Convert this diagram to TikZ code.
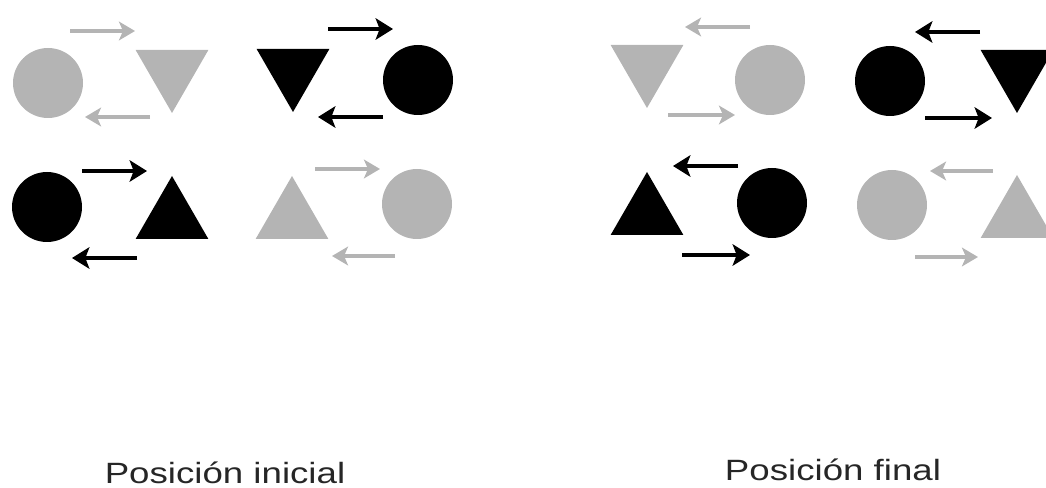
\documentclass[tikz,border=0pt]{standalone}
\usepackage{fontspec}
\setmainfont{Liberation Sans}
\usepackage{tikz}
\usetikzlibrary{
	arrows.meta,
	shapes.geometric
}
\usepackage{xcolor}
\definecolor{pale}{RGB}{180,180,180}

\begin{document}
\begin{tikzpicture}[x=0.75pt,y=-0.75pt,
		ball/.style={circle,inner sep=0pt,minimum size=52.5pt},
		tri/.style={regular polygon,regular polygon sides=3,inner sep=0pt,minimum size=63pt},
		flip/.style={tri,shape border rotate=180},
		blackarr/.style={-{Stealth[length=13pt,width=16pt,inset=3pt]},line width=3.6pt},
		grayarr/.style={-{Stealth[length=12pt,width=14pt,inset=3pt]},line width=2.7pt,draw=pale,fill=pale},
		caption/.style={anchor=base,text=black!85,font=\fontsize{22pt}{26pt}\selectfont}]
		
		\useasboundingbox (0,0) rectangle (1046,488);
		
		% initial position
		\node[ball,fill=pale] (gc1) at (48,83) {};
		\node[flip,fill=pale] (gt1) at (172,71) {};
		\node[flip,fill=black] (bt1) at (293,70) {};
		\node[ball,fill=black] (bc1) at (418,80) {};
		\node[ball,fill=black] (bc2) at (47,207) {};
		\node[tri,fill=black] (bt2) at (172,218) {};
		\node[tri,fill=pale] (gt2) at (292,218) {};
		\node[ball,fill=pale] (gc2) at (417,204) {};
		
		% final position
		\node[flip,fill=pale] (gt3) at (647,66) {};
		\node[ball,fill=pale] (gc3) at (770,80) {};
		\node[ball,fill=black] (bc3) at (890,81) {};
		\node[flip,fill=black] (bt3) at (1017,71) {};
		\node[tri,fill=black] (bt4) at (647,214) {};
		\node[ball,fill=black] (bc4) at (772,203) {};
		\node[ball,fill=pale] (gc4) at (892,205) {};
		\node[tri,fill=pale] (gt4) at (1017,217) {};
		
		% arrows
		\foreach \a/\b/\y in {
			70/135/31,
			150/85/117,
			315/380/169,
			395/332/256,
			750/685/27,
			668/735/115,
			993/930/171,
			915/978/257
		}
		\draw[grayarr] (\a,\y) -- (\b,\y);
		
		\foreach \a/\b/\y in {
			328/393/29,
			383/318/117,
			82/147/171,
			137/72/258,
			980/915/32,
			925/992/118,
			738/673/166,
			682/750/255
		}
		\draw[blackarr] (\a,\y) -- (\b,\y);
		
		% captions
		\node[caption] (ini) at (225,483) {\scalebox{1.25}[1]{Posición inicial}};
		\node[caption] (fin) at (833,480) {\scalebox{1.25}[1]{Posición final}};
		
	\end{tikzpicture}
\end{document}
